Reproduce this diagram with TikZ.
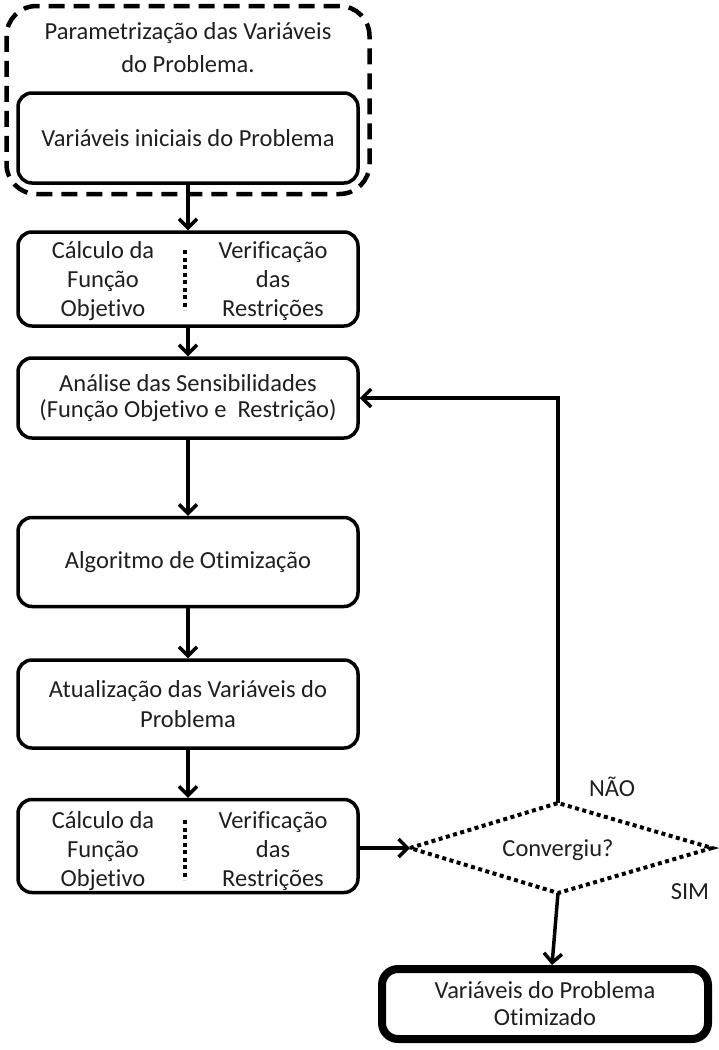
\documentclass[tikz,border=0pt]{standalone}
\usepackage{fontspec}
\setmainfont[Ligatures=NoCommon]{Carlito}
\usetikzlibrary{arrows.meta}
\tikzset{
  x=1pt, y=-1pt,
  box/.style={draw, line width=3.5pt, rounded corners=14pt, minimum width=340pt, align=center, font=\fontsize{24.5}{29}\selectfont, text=black!88},
  lbl/.style={align=center, font=\fontsize{24.5}{29}\selectfont, text=black!88},
  arr/.style={line width=3.5pt, -{Straight Barb[length=9pt,width=18pt,line width=3.5pt]}},
  dotl/.style={line width=4pt, dash pattern=on 4pt off 3.5pt},
}
\begin{document}
\begin{tikzpicture}
\useasboundingbox (0,0) rectangle (718,1050);
% outer dashed group
\node[draw, line width=4.5pt, dash pattern=on 16pt off 9pt, rounded corners=30pt, minimum width=363pt, minimum height=188pt] (grp) at (188,100) {};
\node[lbl, font=\fontsize{24.5}{33}\selectfont] (grpt) at (188,48) {Parametrização das Variáveis\\do Problema.};
\node[box, minimum height=90pt] (b1) at (188,138) {Variáveis iniciais do Problema};
% split box 1
\node[box, minimum height=94pt] (b2) at (188,279) {};
\node[lbl] (b2l) at (103,281) {Cálculo da\\Função\\Objetivo};
\node[lbl] (b2r) at (273,281) {Verificação\\das\\Restrições};
\coordinate (b2dt) at (185,250);
\coordinate (b2db) at (185,310);
\draw[dotl] (b2dt) -- (b2db);
\node[box, minimum height=80pt, font=\fontsize{24.5}{26}\selectfont] (b3) at (188,398) {Análise das Sensibilidades\\(Função Objetivo e\ \ Restrição)};
\node[box, minimum height=89pt] (b4) at (188,562) {Algoritmo de Otimização};
\node[box, minimum height=88pt, font=\fontsize{24.5}{30}\selectfont] (b5) at (188,704) {Atualização das Variáveis do\\Problema};
% split box 2
\node[box, minimum height=93pt] (b6) at (188,846) {};
\node[lbl] (b6l) at (103,851) {Cálculo da\\Função\\Objetivo};
\node[lbl] (b6r) at (273,851) {Verificação\\das\\Restrições};
\coordinate (b6dt) at (185,820);
\coordinate (b6db) at (185,880);
\draw[dotl] (b6dt) -- (b6db);
% diamond
\coordinate (dl) at (410,848);
\coordinate (dt) at (558,803);
\coordinate (dr) at (712,848);
\coordinate (db) at (558,893);
\draw[dotl] (dl) -- (dt) -- (dr) -- (db) -- cycle;
\node[lbl] (conv) at (558,850) {Convergiu?};
\node[lbl] (nao) at (612,787) {NÃO};
\node[lbl] (sim) at (690,892) {SIM};
% final
\node[box, line width=8pt, rounded corners=16pt, minimum width=326pt, minimum height=70pt, font=\fontsize{24.5}{27}\selectfont] (fin) at (545,1004) {Variáveis do Problema\\Otimizado};
% arrows
\draw[arr] (b1) -- (b2);
\draw[arr] (b2) -- (b3);
\draw[arr] (b3) -- (b4);
\draw[arr] (b4) -- (b5);
\draw[arr] (b5) -- (b6);
\draw[arr] (b6.east |- dl) -- (dl);
\draw[arr] (dt) |- (b3.east);
\draw[arr] (db) -- ([xshift=7pt]fin.north);
\end{tikzpicture}
\end{document}
